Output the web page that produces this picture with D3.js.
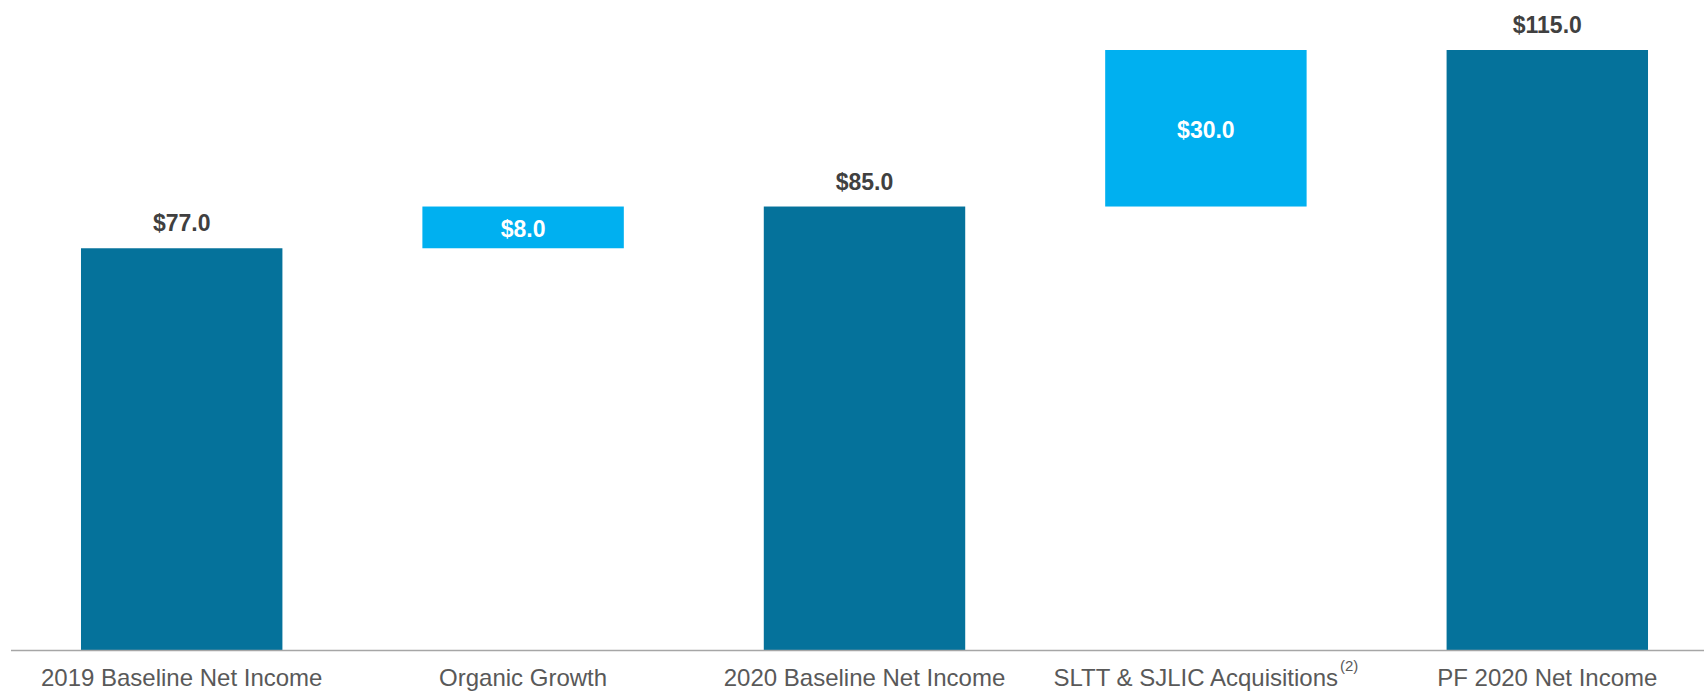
<!DOCTYPE html>
<html>
<head>
<meta charset="utf-8">
<script src="https://cdn.jsdelivr.net/npm/d3@7"></script>
<style>
  html, body { margin: 0; padding: 0; background: #fff; }
  svg { display: block; }
  text { font-family: "Liberation Sans", Arial, sans-serif; }
</style>
</head>
<body>
<svg id="chart" width="1704" height="691"></svg>
<script>
const categories = ["2019 Baseline Net Income", "Organic Growth", "2020 Baseline Net Income", "SLTT & SJLIC Acquisitions", "PF 2020 Net Income"];
const values = [77.0, 8.0, 85.0, 30.0, 115.0];
const kinds = ["total", "delta", "total", "delta", "total"];
const superscripts = ["", "", "", "(2)", ""];

const colors = { total: "#05729b", delta: "#00b0f0" };

const svg = d3.select("#chart");
const W = 1704, H = 691;

const x = d3.scaleBand().domain(categories).range([11, 1718]).paddingInner(0.41).paddingOuter(0.205);
const y = d3.scaleLinear().domain([0, 115]).range([650, 50]);

// compute waterfall segments
let run = 0;
const data = categories.map((c, i) => {
  let lo, hi;
  if (kinds[i] === "total") { lo = 0; hi = values[i]; run = values[i]; }
  else { lo = run; hi = run + values[i]; run = hi; }
  return { cat: c, v: values[i], kind: kinds[i], lo, hi, sup: superscripts[i] };
});

svg.selectAll("rect.bar").data(data).enter().append("rect")
  .attr("class", "bar")
  .attr("x", d => x(d.cat))
  .attr("width", x.bandwidth())
  .attr("y", d => y(d.hi))
  .attr("height", d => y(d.lo) - y(d.hi))
  .attr("fill", d => colors[d.kind]);

// axis baseline
const axis = d3.axisBottom(x).tickSize(0).tickFormat("");
const ax = svg.append("g").attr("transform", `translate(0,${y(0)})`).call(axis);
ax.select(".domain").remove();
svg.append("line")
  .attr("x1", 11).attr("x2", W)
  .attr("y1", y(0) + 0.5).attr("y2", y(0) + 0.5)
  .attr("stroke", "#a6a6a6").attr("stroke-width", 1.5);

const fmt = v => "$" + d3.format(".1f")(v);

// total labels above
svg.selectAll("text.tot").data(data.filter(d => d.kind === "total")).enter().append("text")
  .attr("class", "tot")
  .attr("x", d => x(d.cat) + x.bandwidth() / 2)
  .attr("y", d => y(d.hi) - 17)
  .attr("text-anchor", "middle")
  .attr("font-size", 23)
  .attr("font-weight", "bold")
  .attr("fill", "#404040")
  .text(d => fmt(d.v));

// delta labels inside
svg.selectAll("text.del").data(data.filter(d => d.kind === "delta")).enter().append("text")
  .attr("class", "del")
  .attr("x", d => x(d.cat) + x.bandwidth() / 2)
  .attr("y", d => (y(d.hi) + y(d.lo)) / 2 + 10)
  .attr("text-anchor", "middle")
  .attr("font-size", 23)
  .attr("font-weight", "bold")
  .attr("fill", "#ffffff")
  .text(d => fmt(d.v));

// category labels
const cl = svg.selectAll("text.cat").data(data).enter().append("text")
  .attr("class", "cat")
  .attr("x", d => x(d.cat) + x.bandwidth() / 2)
  .attr("y", 686)
  .attr("text-anchor", "middle")
  .attr("font-size", 24)
  .attr("fill", "#595959");
cl.append("tspan").text(d => d.cat);
cl.filter(d => d.sup).append("tspan")
  .attr("font-size", 15)
  .attr("dx", 2)
  .attr("dy", -15)
  .text(d => d.sup);
</script>
</body>
</html>
